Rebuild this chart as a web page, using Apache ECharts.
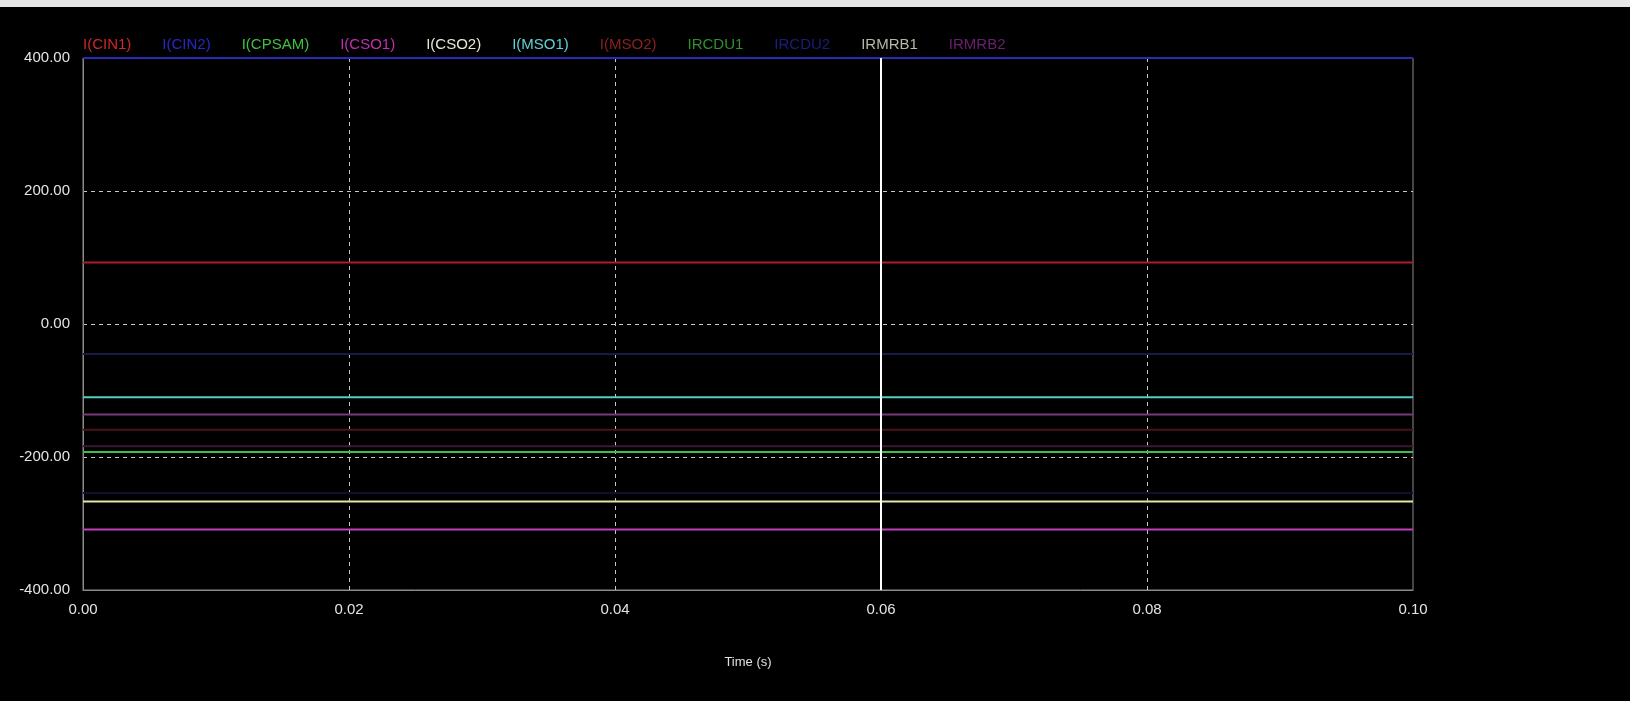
<!DOCTYPE html>
<html>
<head>
<meta charset="utf-8">
<script src="https://cdn.jsdelivr.net/npm/echarts@6/dist/echarts.min.js"></script>
<style>
html,body{margin:0;padding:0;background:#000;}
#chart{width:1630px;height:701px;}
</style>
</head>
<body>
<div id="chart"></div>
<script>
// Data
const times = [0, 0.1];
const seriesNames = ['I(CIN1)','I(CIN2)','I(CPSAM)','I(CSO1)','I(CSO2)','I(MSO1)','I(MSO2)','IRCDU1','IRCDU2','IRMRB1','IRMRB2'];
const cin1 = [92.5, 92.5];
const cin2 = [400, 400];
const cpsam = [-192.5, -192.5];
const cso1 = [-309, -309];
const cso2 = [-267, -267];
const mso1 = [-110, -110];
const mso2 = [-159, -159];
const ircdu1 = [-184, -184];
const ircdu2 = [-45, -45];
const irmrb1 = [-254, -254];
const irmrb2 = [-136, -136];
const yTicks = [-400, -200, 0, 200, 400];
const xTicks = [0, 0.02, 0.04, 0.06, 0.08, 0.1];
const cursorX = 0.06;

const values = [cin1, cin2, cpsam, cso1, cso2, mso1, mso2, ircdu1, ircdu2, irmrb1, irmrb2];
const lineColors = ['#b01c2c','#2a2ab8','#3cc04a','#c040c0','#e8e4a8','#50d0c0','#4a1418','#3a1a30','#1a1a48','#101030','#7a3a78'];
const legendColors = ['#d02828','#2828c8','#40c040','#c030b0','#e8e8d8','#60d0d8','#8a2020','#2f902f','#1c1c80','#b8b8a8','#6a2070'];

const chart = echarts.init(document.getElementById('chart'));
const series = seriesNames.map((n, i) => {
  const s = {
    name: n,
    type: 'line',
    data: times.map((t, k) => [t, values[i][k]]),
    showSymbol: false,
    symbol: 'none',
    lineStyle: { color: lineColors[i], width: 2 },
    itemStyle: { color: lineColors[i] },
    animation: false,
    z: 3
  };
  if (i === 0) {
    s.markLine = {
      silent: true,
      symbol: ['none', 'none'],
      label: { show: false },
      lineStyle: { color: '#ffffff', width: 2, type: 'solid' },
      data: [{ xAxis: cursorX }],
      animation: false
    };
  }
  return s;
});

chart.setOption({
  backgroundColor: '#000000',
  animation: false,
  graphic: [{
    type: 'rect',
    left: 0, top: 0,
    shape: { x: 0, y: 0, width: 1630, height: 7 },
    style: { fill: '#e6e6e6' },
    silent: true
  }],
  legend: {
    left: 73,
    top: 32,
    icon: 'none',
    itemWidth: 0,
    itemHeight: 0,
    itemGap: 26,
    textStyle: { fontFamily: 'Liberation Sans', fontSize: 15 },
    data: seriesNames.map((n, i) => ({ name: n, textStyle: { color: legendColors[i] } })),
    selectedMode: false
  },
  grid: {
    left: 83, right: 217, top: 58, bottom: 111,
    show: true,
    borderColor: '#8a8a8a',
    borderWidth: 1,
    backgroundColor: '#000000'
  },
  xAxis: {
    type: 'value',
    min: 0, max: 0.1, interval: 0.02,
    name: 'Time (s)',
    nameLocation: 'middle',
    nameGap: 66,
    nameTextStyle: { color: '#e0e0e0', fontFamily: 'Liberation Sans', fontSize: 13 },
    axisLine: { show: true, onZero: false, lineStyle: { color: '#8a8a8a' } },
    axisTick: { show: false },
    axisLabel: {
      color: '#e4e4e4', fontFamily: 'Liberation Sans', fontSize: 15, margin: 12,
      formatter: v => v.toFixed(2)
    },
    splitLine: { show: true, showMinLine: false, showMaxLine: false, lineStyle: { color: '#c8c8c8', type: [4, 4], width: 1 } }
  },
  yAxis: {
    type: 'value',
    min: -400, max: 400, interval: 200,
    axisLine: { show: true, onZero: false, lineStyle: { color: '#8a8a8a' } },
    axisTick: { show: false },
    axisLabel: {
      color: '#e4e4e4', fontFamily: 'Liberation Sans', fontSize: 15, margin: 13,
      formatter: v => v.toFixed(2)
    },
    splitLine: { show: true, showMinLine: false, showMaxLine: false, lineStyle: { color: '#c8c8c8', type: [4, 4], width: 1 } }
  },
  series: series
});
</script>
</body>
</html>
